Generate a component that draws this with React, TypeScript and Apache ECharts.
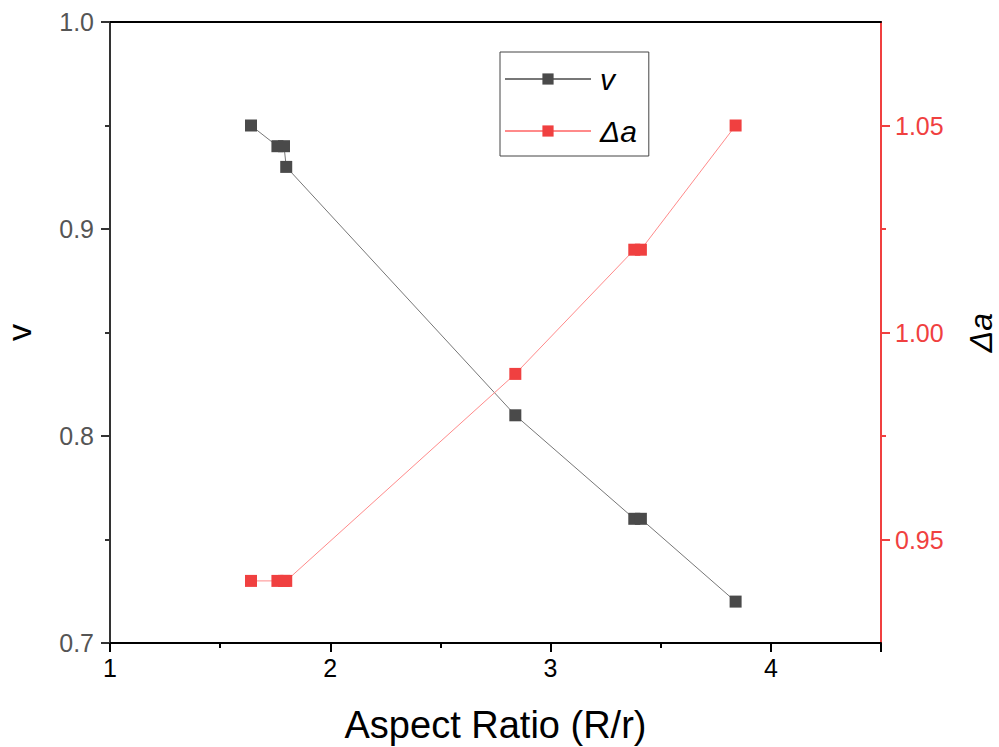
import React, { useEffect, useRef } from "react";
import * as echarts from "echarts";

const xValues = [1.64, 1.76, 1.79, 1.8, 2.84, 3.38, 3.41, 3.84];
const vValues = [0.95, 0.94, 0.94, 0.93, 0.81, 0.76, 0.76, 0.72];
const daValues = [0.94, 0.94, 0.94, 0.94, 0.99, 1.02, 1.02, 1.05];
const xLabels = [1, 2, 3, 4];
const rightMajor = [0.95, 1.0, 1.05];
const rightMinor = [0.975, 1.025];

const FONT = "'Liberation Sans', Arial, sans-serif";
const GRAY = "#4a4a4a";
const RED = "#f04040";

export default function App() {
  const ref = useRef<HTMLDivElement>(null);
  useEffect(() => {
    if (!ref.current) return;
    const chart = echarts.init(ref.current, undefined, { renderer: "svg" });
    const vData = xValues.map((x, i) => [x, vValues[i]]);
    const daData = xValues.map((x, i) => [x, daValues[i]]);
    chart.setOption({
      animation: false,
      backgroundColor: "#ffffff",
      textStyle: { fontFamily: FONT },
      grid: { left: 110, right: 118, top: 22, bottom: 104, containLabel: false, outerBoundsMode: "none" },
      legend: {
        left: 500,
        top: 52,
        orient: "vertical",
        itemWidth: 86,
        itemHeight: 14,
        itemGap: 22,
        padding: [12, 12, 10, 4],
        borderColor: "#444",
        borderWidth: 1,
        textStyle: { fontFamily: FONT, fontSize: 30, fontStyle: "italic", color: "#000", padding: [0, 0, 0, 4] },
        data: ["v", "Δa"],
      },
      xAxis: [
        {
          type: "value",
          min: 1,
          max: 4.5,
          interval: 1,
          name: "Aspect Ratio (R/r)",
          nameLocation: "middle",
          nameGap: 63,
          nameTextStyle: { fontSize: 38, color: "#000", fontFamily: FONT },
          axisLine: { onZero: false, lineStyle: { color: "#000", width: 2 } },
          axisTick: { inside: false, length: 9, lineStyle: { color: "#000", width: 2 } },
          minorTick: { show: true, splitNumber: 2, length: 5, lineStyle: { color: "#000", width: 2 } },
          axisLabel: { fontSize: 25, color: "#000", margin: 12, fontFamily: FONT, customValues: xLabels },
          splitLine: { show: false },
        },
        {
          type: "value",
          position: "top",
          min: 1,
          max: 4.5,
          axisLine: { onZero: false, lineStyle: { color: "#000", width: 2 } },
          axisTick: { show: false },
          axisLabel: { show: false },
          splitLine: { show: false },
        },
      ],
      yAxis: [
        {
          type: "value",
          min: 0.7,
          max: 1.0,
          interval: 0.1,
          name: "v",
          nameLocation: "middle",
          nameRotate: 90,
          nameGap: 74,
          nameTextStyle: { fontSize: 34, color: "#000", fontFamily: FONT },
          axisLine: { onZero: false, lineStyle: { color: "#333", width: 2 } },
          axisTick: { inside: false, length: 9, lineStyle: { color: "#333", width: 2 } },
          minorTick: { show: true, splitNumber: 2, length: 5, lineStyle: { color: "#333", width: 2 } },
          axisLabel: { fontSize: 25, color: "#555", margin: 16, fontFamily: FONT, formatter: (v: number) => v.toFixed(1) },
          splitLine: { show: false },
        },
        {
          type: "value",
          position: "right",
          min: 0.925,
          max: 1.075,
          name: "Δa",
          nameLocation: "middle",
          nameRotate: 90,
          nameGap: 84,
          nameTextStyle: { fontSize: 32, color: "#000", fontStyle: "italic", fontFamily: FONT },
          axisLine: { onZero: false, lineStyle: { color: RED, width: 2 } },
          axisTick: { inside: false, length: 9, customValues: rightMajor, lineStyle: { color: RED, width: 2 } },
          axisLabel: {
            fontSize: 25,
            color: RED,
            margin: 14,
            fontFamily: FONT,
            customValues: rightMajor,
            formatter: (v: number) => v.toFixed(2),
          },
          splitLine: { show: false },
        },
        {
          type: "value",
          position: "right",
          min: 0.925,
          max: 1.075,
          axisLine: { show: false },
          axisTick: { inside: false, length: 5, customValues: rightMinor, lineStyle: { color: RED, width: 2 } },
          axisLabel: { show: false, customValues: rightMinor },
          splitLine: { show: false },
        },
      ],
      series: [
        {
          name: "v",
          type: "line",
          xAxisIndex: 0,
          yAxisIndex: 0,
          data: vData,
          symbol: "rect",
          symbolSize: 12,
          itemStyle: { color: GRAY },
          lineStyle: { color: "#777", width: 1 },
          z: 3,
        },
        {
          name: "Δa",
          type: "line",
          xAxisIndex: 0,
          yAxisIndex: 1,
          data: daData,
          symbol: "rect",
          symbolSize: 12,
          itemStyle: { color: RED },
          lineStyle: { color: "#ff8a8a", width: 1 },
          z: 3,
        },
      ],
    });
    return () => chart.dispose();
  }, []);
  return <div ref={ref} style={{ position: "fixed", left: 0, top: 0, width: 999, height: 747 }} />;
}
